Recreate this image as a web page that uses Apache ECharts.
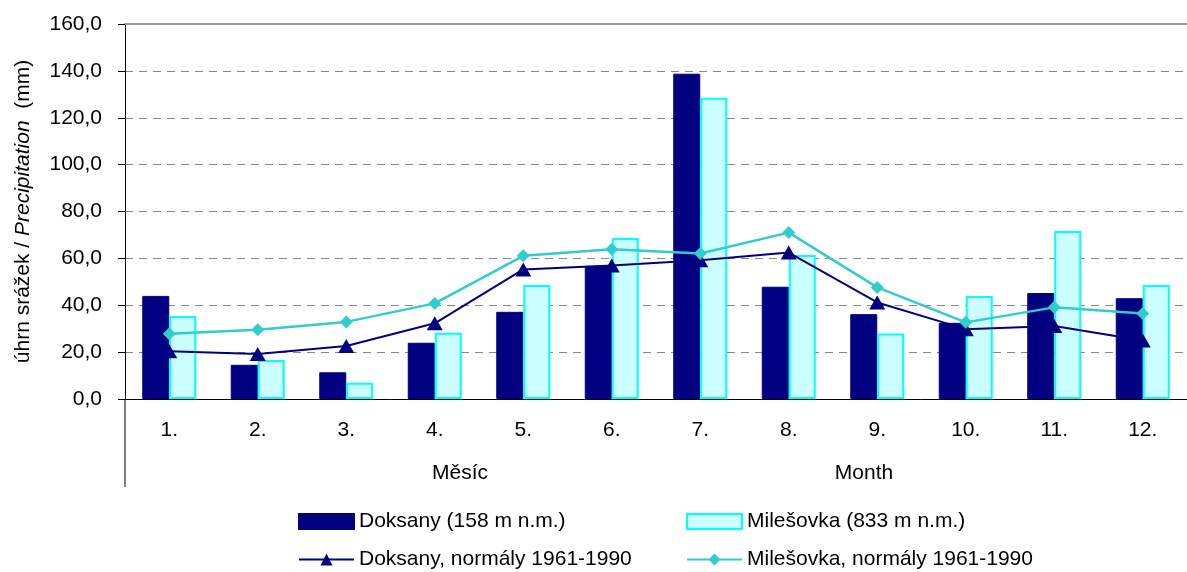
<!DOCTYPE html>
<html>
<head>
<meta charset="utf-8">
<script src="https://cdn.jsdelivr.net/npm/echarts@6/dist/echarts.min.js"></script>
<style>
  html, body { margin: 0; padding: 0; background: #fff; }
  #chart { width: 1187px; height: 572px; }
</style>
</head>
<body>
<div id="chart"></div>
<script>
const months = ["1.", "2.", "3.", "4.", "5.", "6.", "7.", "8.", "9.", "10.", "11.", "12."];
const doksany = [44.0, 14.6, 11.4, 24.0, 37.2, 56.8, 138.8, 47.9, 36.2, 32.5, 45.2, 43.0];
const milesovka = [35.4, 16.6, 6.9, 28.3, 48.6, 68.7, 128.5, 61.4, 28.0, 44.0, 71.7, 48.6];
const doksanyNorm = [20.4, 19.2, 22.6, 32.3, 55.3, 57.0, 59.2, 62.5, 41.2, 29.8, 31.1, 25.0];
const milesovkaNorm = [27.8, 29.5, 32.9, 40.8, 61.1, 63.9, 62.1, 71.0, 47.6, 32.7, 39.1, 36.5];

const fontFamily = "'Liberation Sans', Arial, sans-serif";
const navy = "#000080";
const fs = 21;

const myChart = echarts.init(document.getElementById("chart"));

// one legend per item so the two columns line up like the original
function legendItem(name, left, top, icon) {
  const item = {
    left: left, top: top, padding: 0,
    itemWidth: 55, itemHeight: 15, itemGap: 0,
    textStyle: { fontSize: fs, color: "#000", fontFamily: fontFamily },
    data: [name],
  };
  if (icon) item.icon = icon;
  return item;
}

const option = {
  backgroundColor: "#fff",
  animation: false,
  textStyle: { fontFamily: fontFamily, color: "#000" },
  grid: { left: 125, top: 24, width: 1073, height: 375 },
  legend: [
    legendItem("Doksany (158 m n.m.)", 298, 511, "rect"),
    legendItem("Doksany, normály 1961-1990", 298, 549),
    legendItem("Milešovka (833 m n.m.)", 686, 511, "rect"),
    legendItem("Milešovka, normály 1961-1990", 686, 549),
  ],
  xAxis: [
    {
      type: "category",
      data: months,
      axisLine: { lineStyle: { color: "#000", width: 1 } },
      axisTick: { length: 44, lineStyle: { color: "#000" } },
      axisLabel: { fontSize: fs, color: "#000", margin: 21, fontFamily: fontFamily },
      splitLine: { show: false },
    },
    {
      type: "category",
      data: months,
      position: "top",
      axisLine: { lineStyle: { color: "#999", width: 2 } },
      axisTick: { show: false },
      axisLabel: { show: false },
    },
  ],
  yAxis: {
    type: "value",
    min: 0,
    max: 160,
    interval: 20,
    name: "{a|úhrn srážek / }{b|Precipitation}{a|  (mm)}",
    nameLocation: "middle",
    nameRotate: 90,
    nameGap: 91,
    nameTextStyle: {
      rich: {
        a: { fontSize: fs, color: "#000", fontFamily: fontFamily },
        b: { fontSize: fs, color: "#000", fontFamily: fontFamily, fontStyle: "italic" },
      },
    },
    axisLine: { show: true, lineStyle: { color: "#000" } },
    axisTick: { show: true, length: 7, lineStyle: { color: "#000" } },
    axisLabel: {
      fontSize: fs,
      color: "#000",
      margin: 23,
      fontFamily: fontFamily,
      formatter: (v) => v.toFixed(1).replace(".", ","),
    },
    splitLine: { lineStyle: { color: "#888", type: [8, 6], width: 1 } },
  },
  graphic: [
    { type: "line", shape: { x1: 125, y1: 399, x2: 125, y2: 487 }, style: { stroke: "#000", lineWidth: 1 } },
    { type: "text", x: 460, y: 473, style: { text: "Měsíc", fontSize: fs, fill: "#000", fontFamily: fontFamily, align: "center", verticalAlign: "middle" } },
    { type: "text", x: 864, y: 473, style: { text: "Month", fontSize: fs, fill: "#000", fontFamily: fontFamily, align: "center", verticalAlign: "middle" } },
  ],
  series: [
    {
      name: "Doksany (158 m n.m.)",
      type: "bar",
      data: doksany,
      barWidth: 27,
      barGap: "0%",
      itemStyle: { color: navy, borderColor: navy, borderWidth: 1 },
      z: 2,
    },
    {
      name: "Milešovka (833 m n.m.)",
      type: "bar",
      data: milesovka,
      barWidth: 27,
      barGap: "0%",
      itemStyle: { color: "#CCFFFF", borderColor: "#00FFFF", borderWidth: 2 },
      z: 2,
    },
    {
      name: "Doksany, normály 1961-1990",
      type: "line",
      data: doksanyNorm,
      symbol: "triangle",
      symbolSize: [16, 14],
      lineStyle: { color: navy, width: 2 },
      itemStyle: { color: navy },
      z: 4,
    },
    {
      name: "Milešovka, normály 1961-1990",
      type: "line",
      data: milesovkaNorm,
      symbol: "diamond",
      symbolSize: 13,
      lineStyle: { color: "#33CCCC", width: 2.5 },
      itemStyle: { color: "#33CCCC" },
      z: 5,
    },
  ],
};

myChart.setOption(option);
</script>
</body>
</html>
